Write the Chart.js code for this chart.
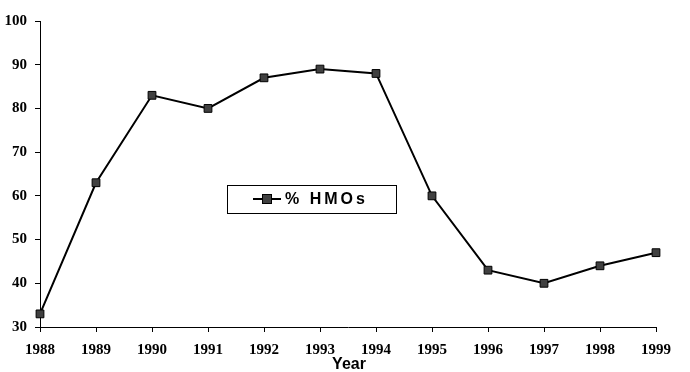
<!DOCTYPE html>
<html>
<head>
<meta charset="utf-8">
<script src="https://cdn.jsdelivr.net/npm/chart.js@4/dist/chart.umd.min.js"></script>
<style>
  html, body { margin: 0; padding: 0; background: #fff; }
  #wrap { width: 690px; height: 372px; }
</style>
</head>
<body>
<div id="wrap"><canvas id="canvas" width="690" height="372"></canvas></div>
<script>
var years = ["1988", "1989", "1990", "1991", "1992", "1993", "1994", "1995", "1996", "1997", "1998", "1999"];
var hmoPct = [33, 63, 83, 80, 87, 89, 88, 60, 43, 40, 44, 47];
var seriesName = "% HMOs";
var xTitle = "Year";

// legend box drawn inside the plot, like the original
var boxLegend = {
    id: 'boxLegend',
    afterDraw: function(chart) {
        var ctx = chart.ctx;
        ctx.save();
        ctx.strokeStyle = '#000';
        ctx.lineWidth = 1;
        ctx.strokeRect(227.5, 185.5, 169, 28);
        ctx.beginPath();
        ctx.lineWidth = 2;
        ctx.moveTo(253, 199);
        ctx.lineTo(281, 199);
        ctx.stroke();
        ctx.fillStyle = '#404040';
        ctx.fillRect(262, 194, 10, 10);
        ctx.lineWidth = 1;
        ctx.strokeRect(262.5, 194.5, 9, 9);
        ctx.fillStyle = '#000';
        ctx.font = 'bold 16px "Liberation Sans", Arial, sans-serif';
        if ('letterSpacing' in ctx) ctx.letterSpacing = '3px';
        ctx.textBaseline = 'middle';
        ctx.textAlign = 'left';
        ctx.fillText(seriesName, 285, 200);
        ctx.restore();

        // axis title
        ctx.save();
        ctx.font = 'bold 16px "Liberation Sans", Arial, sans-serif';
        ctx.fillStyle = '#000';
        ctx.textAlign = 'center';
        ctx.textBaseline = 'alphabetic';
        ctx.fillText(xTitle, 349, 369);
        ctx.restore();
    }
};

var config = {
    type: 'line',
    data: {
        labels: years,
        datasets: [{
            label: seriesName,
            data: hmoPct,
            borderColor: '#000',
            borderWidth: 2,
            backgroundColor: '#404040',
            pointStyle: 'rect',
            pointRadius: 5.5,
            pointBorderColor: '#000',
            pointBorderWidth: 1,
            pointBackgroundColor: '#404040',
            tension: 0,
            fill: false
        }]
    },
    options: {
        responsive: false,
        animation: false,
        layout: { padding: { top: 21, right: 34, left: 0, bottom: 0 } },
        plugins: {
            legend: { display: false },
            tooltip: { enabled: false },
            title: { display: false }
        },
        scales: {
            x: {
                type: 'category',
                offset: false,
                afterFit: function(scale) { scale.height = 45; },
                grid: { drawOnChartArea: false, drawTicks: true, tickLength: 5, color: '#000' },
                border: { display: true, color: '#000', width: 1 },
                ticks: {
                    color: '#000',
                    padding: 9,
                    maxRotation: 0,
                    autoSkip: false,
                    font: { family: '"Liberation Serif", "Times New Roman", serif', size: 15, weight: 'bold' }
                }
            },
            y: {
                min: 30,
                max: 100,
                afterFit: function(scale) { scale.width = 40; },
                grid: { drawOnChartArea: false, drawTicks: true, tickLength: 5, color: '#000' },
                border: { display: true, color: '#000', width: 1 },
                ticks: {
                    stepSize: 10,
                    color: '#000',
                    padding: 8,
                    font: { family: '"Liberation Serif", "Times New Roman", serif', size: 15, weight: 'bold' }
                }
            }
        }
    },
    plugins: [boxLegend]
};

window.onload = function() {
    var ctx = document.getElementById("canvas").getContext("2d");
    window.myLine = new Chart(ctx, config);
};
</script>
</body>
</html>
